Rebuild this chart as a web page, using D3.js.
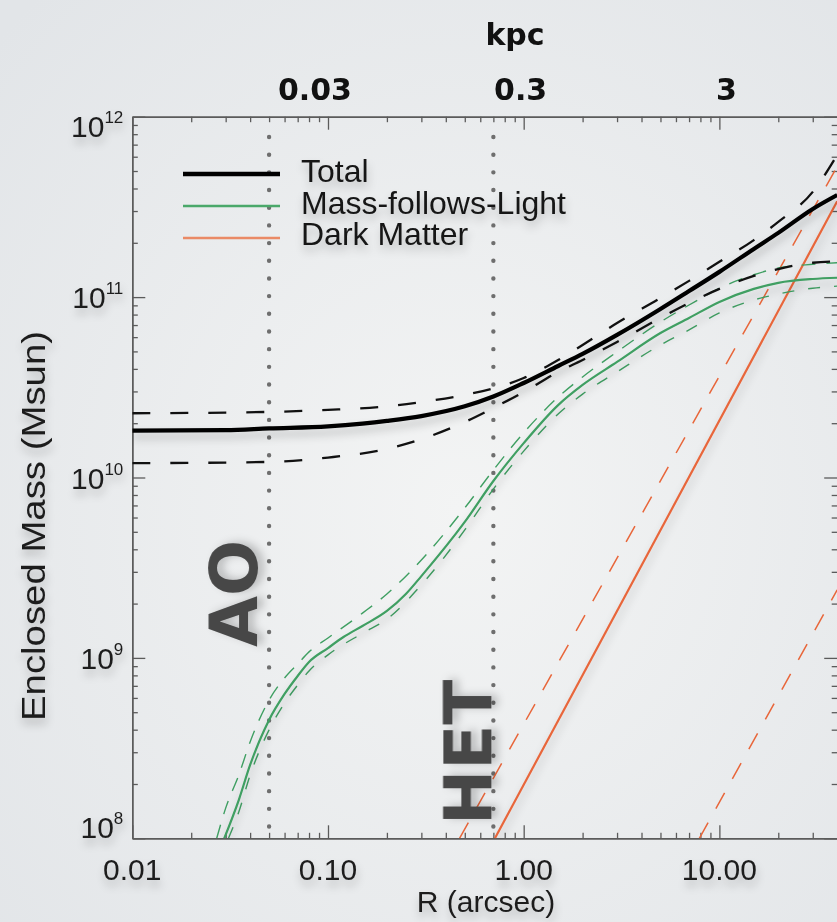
<!DOCTYPE html>
<html><head><meta charset="utf-8">
<script src="https://cdn.jsdelivr.net/npm/d3@7"></script>
<style>html,body{margin:0;padding:0;background:#eceef0;} svg{display:block}</style>
</head><body><svg id="c" width="837" height="922"></svg>
<script>
// ---------------- data ----------------
const xTickValues = [0.01, 0.1, 1, 10];
const xTickLabels = ["0.01", "0.10", "1.00", "10.00"];
const yTickValues = [1e8, 1e9, 1e10, 1e11, 1e12];
const yTickExponents = ["8", "9", "10", "11", "12"];
const kpcTickAt = [0.1, 1, 10];
const kpcTickLabels = ["0.03", "0.3", "3"];
const apertureR = [0.05, 0.7];
const apertureNames = ["AO", "HET"];
const legendNames = ["Total", "Mass-follows-Light", "Dark Matter"];

const R_TOT = [0.01, 0.03, 0.05, 0.1, 0.15, 0.2, 0.3, 0.5, 0.7, 1, 1.5, 2, 3, 5, 7, 10, 15, 20, 30, 40];
const totalMass = [1.82e10, 1.83e10, 1.87e10, 1.92e10, 1.99e10, 2.06e10, 2.19e10, 2.48e10, 2.81e10, 3.34e10, 4.15e10, 4.84e10, 6.17e10, 8.59e10, 1.08e11, 1.38e11, 1.85e11, 2.27e11, 3.08e11, 3.68e11];

const R_TOT_B = [0.01, 0.05, 0.1, 0.2, 0.3, 0.5, 0.7, 1, 1.5, 2, 3, 5, 7, 10, 15, 20, 30, 40];
const totalUpper = [2.27e10, 2.31e10, 2.37e10, 2.48e10, 2.62e10, 2.87e10, 3.12e10, 3.56e10, 4.48e10, 5.43e10, 7.18e10, 9.89e10, 1.23e11, 1.57e11, 2.07e11, 2.61e11, 3.83e11, 6.14e11];
const totalLower = [1.20e10, 1.22e10, 1.29e10, 1.44e10, 1.63e10, 2.03e10, 2.43e10, 2.98e10, 3.85e10, 4.48e10, 5.64e10, 7.66e10, 9.27e10, 1.11e11, 1.31e11, 1.43e11, 1.55e11, 1.58e11];

const R_MFL = [0.0295, 0.035, 0.04, 0.05, 0.06, 0.07, 0.08, 0.1, 0.12, 0.15, 0.2, 0.25, 0.3, 0.5, 0.7, 1, 1.5, 2, 3, 5, 7, 10, 15, 20, 30, 40];
const mflMass = [1.0e8, 1.63e8, 2.55e8, 4.53e8, 6.31e8, 7.94e8, 9.49e8, 1.134e9, 1.305e9, 1.503e9, 1.82e9, 2.26e9, 2.84e9, 5.67e9, 9.56e9, 1.55e10, 2.52e10, 3.26e10, 4.37e10, 6.32e10, 7.66e10, 9.40e10, 1.11e11, 1.20e11, 1.26e11, 1.28e11];
const R_MFL_U = [0.027, 0.03, 0.035, 0.04, 0.05, 0.06, 0.07, 0.08, 0.1, 0.15, 0.2, 0.3, 0.5, 0.7, 1, 1.5, 2, 3, 5, 7, 10, 15, 20, 30, 40];
const mflUpper = [1.0e8, 1.47e8, 2.24e8, 3.42e8, 5.84e8, 7.74e8, 9.25e8, 1.08e9, 1.29e9, 1.77e9, 2.26e9, 3.49e9, 6.78e9, 1.10e10, 1.77e10, 2.79e10, 3.61e10, 4.97e10, 7.28e10, 9.04e10, 1.12e11, 1.33e11, 1.45e11, 1.52e11, 1.55e11];
const R_MFL_L = [0.031, 0.035, 0.04, 0.05, 0.06, 0.07, 0.08, 0.1, 0.15, 0.2, 0.3, 0.5, 0.7, 1, 1.5, 2, 3, 5, 7, 10, 15, 20, 30, 40];
const mflLower = [1.0e8, 1.40e8, 2.24e8, 3.99e8, 5.62e8, 7.08e8, 8.46e8, 1.04e9, 1.37e9, 1.64e9, 2.54e9, 5.12e9, 8.63e9, 1.40e10, 2.25e10, 2.90e10, 3.85e10, 5.43e10, 6.58e10, 8.17e10, 9.64e10, 1.04e11, 1.12e11, 1.15e11];

const R_DM = [0.713, 40];
const dmMass = [1e8, 3.4e11];
const R_DM_U = [0.47, 40];
const dmUpper = [1e8, 5.3e11];
const R_DM_L = [7.9, 40];
const dmLower = [1e8, 2.38e9];

// ---------------- layout ----------------
const W = 837, H = 922;
const L = 132.3, Rr = 837.2, T = 116.7, B = 838.3;
const svg = d3.select("#c");
const defs = svg.append("defs");
const bg = defs.append("radialGradient").attr("id", "bg").attr("cx", "55%").attr("cy", "55%").attr("r", "75%");
bg.append("stop").attr("offset", "0%").attr("stop-color", "#f3f4f4");
bg.append("stop").attr("offset", "100%").attr("stop-color", "#e2e5e8");
const sh = defs.append("filter").attr("id", "sh").attr("x", "-20%").attr("y", "-20%").attr("width", "140%").attr("height", "160%");
sh.append("feDropShadow").attr("dx", 1).attr("dy", 6).attr("stdDeviation", 4).attr("flood-color", "#000").attr("flood-opacity", 0.22);
defs.append("clipPath").attr("id", "clip").append("rect").attr("x", L).attr("y", T).attr("width", Rr - L).attr("height", B - T);

svg.append("rect").attr("width", W).attr("height", H).attr("fill", "url(#bg)");

const x = d3.scaleLog().domain([0.01, 40]).range([L, Rr]);
const y = d3.scaleLog().domain([1e8, 1e12]).range([B, T]);

// minor tick values
const xMinor = [], yMinor = [];
for (let d = -2; d <= 1; d++) for (let k = 2; k <= 9; k++) { const v = k * Math.pow(10, d); if (v <= 40) xMinor.push(v); }
for (let d = 8; d <= 11; d++) for (let k = 2; k <= 9; k++) yMinor.push(k * Math.pow(10, d));

const axisCol = "#5b5b5b";
function styleAxis(g) {
  g.select(".domain").attr("stroke", axisCol).attr("stroke-width", 1.4);
  g.selectAll(".tick line").attr("stroke", axisCol).attr("stroke-width", 1.3);
  g.selectAll(".tick text").remove();
}
const axes = svg.append("g");
axes.append("g").attr("transform", `translate(0,${B})`).call(d3.axisBottom(x).tickValues(xMinor).tickSize(-5.5).tickSizeOuter(0).tickFormat("")).call(styleAxis);
axes.append("g").attr("transform", `translate(0,${B})`).call(d3.axisBottom(x).tickValues(xTickValues).tickSize(-13).tickSizeOuter(0).tickFormat("")).call(styleAxis);
axes.append("g").attr("transform", `translate(0,${T})`).call(d3.axisTop(x).tickValues(xMinor).tickSize(-5.5).tickSizeOuter(0).tickFormat("")).call(styleAxis);
axes.append("g").attr("transform", `translate(0,${T})`).call(d3.axisTop(x).tickValues(xTickValues).tickSize(-13).tickSizeOuter(0).tickFormat("")).call(styleAxis);
axes.append("g").attr("transform", `translate(${L},0)`).call(d3.axisLeft(y).tickValues(yMinor).tickSize(-5.5).tickSizeOuter(0).tickFormat("")).call(styleAxis);
axes.append("g").attr("transform", `translate(${L},0)`).call(d3.axisLeft(y).tickValues(yTickValues).tickSize(-13).tickSizeOuter(0).tickFormat("")).call(styleAxis);
axes.append("g").attr("transform", `translate(${Rr},0)`).call(d3.axisRight(y).tickValues(yMinor).tickSize(-5.5).tickSizeOuter(0).tickFormat("")).call(styleAxis);
axes.append("g").attr("transform", `translate(${Rr},0)`).call(d3.axisRight(y).tickValues(yTickValues).tickSize(-13).tickSizeOuter(0).tickFormat("")).call(styleAxis);

// aperture dotted lines
const plot = svg.append("g").attr("clip-path", "url(#clip)");
apertureR.forEach(r => {
  plot.append("line").attr("x1", x(r)).attr("x2", x(r)).attr("y1", T + 20.3).attr("y2", B - 11.6)
    .attr("stroke", "#6e6e6e").attr("stroke-width", 4.4).attr("stroke-linecap", "round").attr("stroke-dasharray", "0 17.68");
});

// curves
const line = d3.line().x(d => x(d[0])).y(d => y(d[1])).curve(d3.curveMonotoneX);
const zip = (a, b) => a.map((v, i) => [v, b[i]]);
const green = "#3f9f62", orange = "#e8663a";
function curve(R, M, col, w, dash, shadow) {
  const p = plot.append("path").datum(zip(R, M)).attr("d", line).attr("fill", "none")
    .attr("stroke", col).attr("stroke-width", w);
  if (dash) p.attr("stroke-dasharray", dash);
  if (shadow) p.attr("filter", "url(#sh)");
}
curve(R_DM_U, dmUpper, orange, 1.5, "18 16");
curve(R_DM_L, dmLower, orange, 1.5, "18 16");
curve(R_DM, dmMass, orange, 2.2, null, true);
curve(R_MFL_U, mflUpper, green, 1.4, "14 11");
curve(R_MFL_L, mflLower, green, 1.4, "12 14");
curve(R_MFL, mflMass, green, 2.2, null, true);
curve(R_TOT_B, totalUpper, "#111", 2.3, "18 20");
curve(R_TOT_B, totalLower, "#111", 2.3, "18 20");
curve(R_TOT, totalMass, "#000", 4.2, null, true);

// aperture labels
const apOffset = [12, 2], apBottom = [647, 825];
apertureR.forEach((r, i) => {
  svg.append("text").attr("transform", `translate(${x(r) - apOffset[i]},${apBottom[i]}) rotate(-90)`)
    .attr("font-family", "DejaVu Sans").attr("font-weight", "bold").attr("font-size", 66)
    .attr("fill", "#474747").attr("filter", "url(#sh)").text(apertureNames[i]);
});

// legend
const legCols = ["#000", "#4aa86a", "#ea8a66"], legW = [4.5, 2.6, 2.6];
legendNames.forEach((n, i) => {
  const yy = 174 + i * 32;
  svg.append("line").attr("x1", 183).attr("x2", 280).attr("y1", yy).attr("y2", yy)
    .attr("stroke", legCols[i]).attr("stroke-width", legW[i]);
  svg.append("text").attr("x", 301).attr("y", yy + 8 + (i === 2 ? -1 : 0)).attr("font-family", "Liberation Sans, Arial, sans-serif")
    .attr("font-size", 32).attr("fill", "#161616").attr("filter", "url(#sh)").text(n);
});

// tick labels
const lab = svg.append("g").attr("font-family", "Liberation Sans, Arial, sans-serif").attr("fill", "#1e1e1e").attr("filter", "url(#sh)");
xTickValues.forEach((v, i) => {
  lab.append("text").attr("x", x(v)).attr("y", 880).attr("text-anchor", "middle").attr("font-size", 30).text(xTickLabels[i]);
});
yTickValues.forEach((v, i) => {
  const base = Math.max(T + 20.5, Math.min(B, y(v) + 11));
  const t = lab.append("text").attr("x", L - 9).attr("y", base).attr("text-anchor", "end").attr("font-size", 30);
  t.append("tspan").text("10");
  t.append("tspan").attr("font-size", 17).attr("dy", -14).text(yTickExponents[i]);
});
lab.append("text").attr("x", 486).attr("y", 912).attr("text-anchor", "middle").attr("font-size", 30).text("R (arcsec)");
lab.append("text").attr("transform", `translate(45,526) rotate(-90)`).attr("text-anchor", "middle").attr("font-size", 33)
  .attr("textLength", 390).attr("lengthAdjust", "spacingAndGlyphs").text("Enclosed Mass (Msun)");

// top kpc labels
const topG = svg.append("g").attr("font-family", "DejaVu Sans, sans-serif").attr("font-weight", "bold").attr("fill", "#111").attr("font-size", 30);
kpcTickAt.forEach((v, i) => {
  topG.append("text").attr("x", x(v) + [-13, -3, 7][i]).attr("y", 100).attr("text-anchor", "middle").text(kpcTickLabels[i]);
});
topG.append("text").attr("x", 515).attr("y", 45).attr("text-anchor", "middle").text("kpc");
</script></body></html>
